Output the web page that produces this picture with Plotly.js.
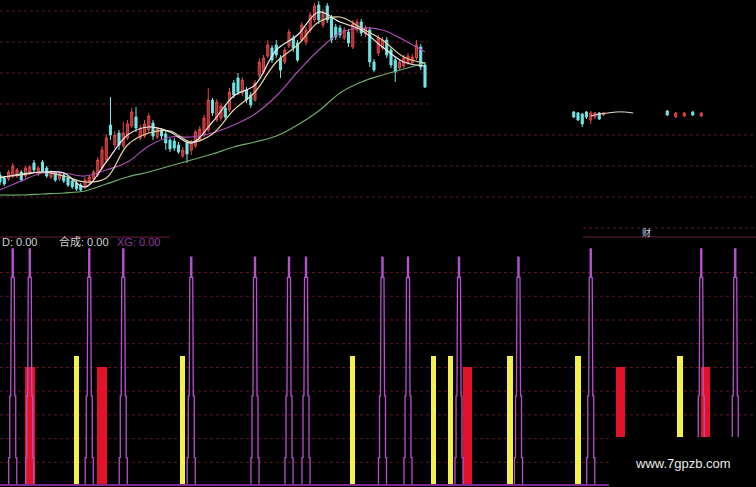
<!DOCTYPE html>
<html>
<head>
<meta charset="utf-8">
<script src="https://cdn.plot.ly/plotly-3.0.1.min.js"></script>
<style>
  html, body { margin: 0; padding: 0; background: #000; }
  #chart { width: 756px; height: 487px; }
</style>
</head>
<body>
<div id="chart"></div>
<script>
// ---- daily bars (price panel) ----
const barOpen = [
  5.5,5.2,5.1,5.4,5.4,5.8,5.4,5.7,6.7,5.6,
  6.8,6.2,5.3,5.7,5.1,5.5,5.2,4.9,4.7,4.5,
  4.3,4.8,5.1,5.5,6.2,7.0,10.5,8.5,9.7,8.4,
  9.2,10.4,11.3,9.2,9.4,10.0,10.7,9.3,10.0,9.6,
  9.0,8.9,8.5,7.4,8.7,8.0,8.4,9.0,9.5,10.0,
  13.0,11.0,11.2,12.2,12.0,14.7,15.2,13.7,14.0,13.5,
  13.0,15.5,15.8,17.4,18.2,18.5,17.2,16.8,18.4,19.2,
  18.7,19.0,18.8,20.0,21.0,22.5,20.5,22.4,21.2,20.3,
  20.2,19.2,19.8,18.3,20.0,20.8,19.6,20.0,16.8,17.7,
  18.2,19.0,18.0,17.0,16.2,16.4,16.7,16.7,17.2,18.3,
  16.5
];
const barHigh = [
  5.8,5.4,6.0,6.7,6.2,6.0,6.4,6.5,7.0,6.4,
  7.0,6.4,6.0,5.9,5.8,5.7,5.4,5.1,4.9,4.7,
  5.3,5.5,6.0,7.3,8.4,9.6,13.3,9.9,10.0,10.8,
  11.0,12.2,12.3,10.5,11.0,11.7,11.0,10.3,10.2,9.9,
  9.2,9.2,8.8,8.3,8.9,9.0,10.0,10.4,11.5,14.2,
  13.2,13.1,12.7,12.4,14.2,15.0,15.7,15.3,14.3,13.8,
  15.0,17.2,17.5,19.0,18.5,19.0,17.5,18.3,20.1,19.5,
  19.0,20.8,20.3,21.8,22.7,22.9,22.1,22.7,21.5,20.6,
  20.5,20.3,20.1,21.0,21.1,21.1,20.5,20.3,17.1,19.5,
  19.3,19.3,18.3,17.3,17.1,17.5,17.7,17.6,19.0,18.6,
  16.8
];
const barLow = [
  4.5,4.4,4.9,5.2,5.2,4.8,5.2,5.5,5.8,5.4,
  5.7,5.2,5.1,4.8,4.9,4.7,4.3,4.1,3.9,3.8,
  4.1,4.6,4.9,5.3,6.0,6.8,9.0,8.2,8.0,8.2,
  9.0,10.2,9.8,9.0,9.2,9.7,9.0,9.1,9.0,8.0,
  7.8,7.9,7.6,7.2,6.7,7.5,8.2,8.8,9.3,9.8,
  11.4,10.8,10.9,11.0,11.8,13.2,13.5,13.4,12.7,12.2,
  12.8,15.2,15.6,17.2,16.7,17.2,15.2,16.6,18.2,17.8,
  16.8,18.8,18.5,19.7,20.8,20.6,20.2,20.7,18.7,19.0,
  19.2,19.0,18.3,18.1,19.7,19.4,19.3,16.3,15.8,17.4,
  18.0,17.2,16.2,14.8,16.0,16.2,16.5,16.5,17.0,16.0,
  14.2
];
const barClose = [
  4.8,4.6,5.8,6.4,6.0,5.0,6.2,6.3,6.0,6.2,
  5.9,5.4,5.8,5.0,5.6,4.9,4.5,4.3,4.1,4.0,
  5.0,5.3,5.8,7.0,8.0,9.2,9.5,9.5,8.5,9.7,
  10.6,11.8,10.2,10.2,10.6,11.4,9.4,10.1,9.4,8.7,
  8.1,8.2,7.8,8.0,7.6,8.8,9.8,10.1,11.2,13.0,
  11.7,12.8,12.4,11.3,13.8,13.5,13.8,15.0,13.0,12.5,
  14.7,16.8,17.2,18.5,17.0,17.5,16.0,18.0,19.8,18.2,
  17.0,20.5,20.0,21.5,22.4,21.0,21.8,21.0,19.0,19.3,
  19.5,20.0,18.7,20.6,20.8,19.7,20.2,16.8,16.0,19.2,
  19.0,17.5,16.5,15.8,16.8,17.2,17.4,17.3,18.5,16.3,
  14.3
];
const barIdx = barOpen.map((_, i) => i);

// ---- moving averages, read every fifth bar ----
const maIdx = [0,5,10,15,20,25,30,35,40,45,50,55,60,65,70,75,80,85,90,95,100];
const ma5  = [5.2,5.6,5.8,5.7,4.3,6.8,9.5,10.3,9.8,8.7,10.8,13.4,14.5,18.0,19.5,21.8,20.8,20.0,18.3,16.8,16.4];
const ma10 = [5.3,5.5,5.8,5.4,4.8,5.2,8.5,9.7,9.9,8.8,9.6,12.0,13.8,16.8,18.5,20.8,21.3,20.2,19.0,17.3,16.7];
const ma20 = [4.0,4.9,5.7,5.7,5.4,6.0,6.8,8.4,9.3,9.3,9.7,10.5,11.6,13.4,15.8,18.0,19.7,20.2,20.0,19.0,17.8];
const ma60 = [3.5,3.5,3.6,3.7,3.9,4.6,5.3,5.8,6.4,7.0,7.6,8.3,8.8,9.4,10.5,11.9,13.7,14.8,15.5,16.1,16.7];

// ---- small inset bars ----
const miniIdx   = [135,136,137,138,139,140,141,142,157,159,161,163,165];
const miniOpen  = [21.8,21.7,21.6,21.8,21.0,21.3,21.7,21.5,21.9,21.3,21.4,21.8,21.4];
const miniHigh  = [21.9,21.8,21.7,21.9,21.9,21.8,21.8,21.8,22.0,21.8,21.8,21.9,21.8];
const miniLow   = [21.2,20.9,20.3,21.1,20.6,21.1,21.0,21.4,21.4,21.2,21.3,21.4,21.3];
const miniClose = [21.3,21.0,20.6,21.3,21.7,21.7,21.1,21.7,21.5,21.7,21.7,21.5,21.7];
const miniMaIdx = [139,141,143,145,147,149];
const miniMa    = [21.4,21.6,21.7,21.8,21.8,21.7];

// ---- signal panel ----
const spikeIdx   = [3,7,21,29,45,60,68,72,90,96,108,122,139,165,173];
const spikeTop   = [100,100,100,100,96.5,96.5,96.5,96.5,96.5,96.5,96.5,96.5,100,100,100];
const spikeSteps = [12,38,63,88];
const yellowIdx  = [18,43,83,102,106,120,136,160];
const yellowVal  = [55,55,55,55,55,55,55,55];
const redIdx     = [7,24,110,146,166];
const redVal     = [50,50,50,50,50];

const labelD  = 'D: 0.00';
const labelHC = '合成: 0.00';
const labelXG = 'XG: 0.00';
const labelCai = '财';
const siteText = 'www.7gpzb.com';

// ---- geometry helpers ----
const W = 756, H = 487, STEP = 4.25;
const px = v => v / W;
const py = v => 1 - v / H;

const traces = [];

// moving averages under the candles
const maDefs = [[ma60, '#6fae6a'], [ma20, '#a94db4'], [ma10, '#e6d6a2'], [ma5, '#ececec']];
maDefs.forEach(([vals, col]) => traces.push({
  type: 'scatter', mode: 'lines', x: maIdx, y: vals, xaxis: 'x', yaxis: 'y',
  line: { color: col, width: 1.2, shape: 'spline', smoothing: 1 }, hoverinfo: 'skip'
}));

const upStyle = { line: { color: '#e04848', width: 1 }, fillcolor: '#a42c2c' };
const downStyle = { line: { color: '#72e4e4', width: 1 }, fillcolor: '#72e4e4' };

traces.push({
  type: 'candlestick', x: barIdx, open: barOpen, high: barHigh, low: barLow, close: barClose,
  xaxis: 'x', yaxis: 'y', whiskerwidth: 0, increasing: upStyle, decreasing: downStyle,
  hoverinfo: 'skip'
});

// inset
traces.push({
  type: 'scatter', mode: 'lines', x: miniMaIdx, y: miniMa, xaxis: 'x', yaxis: 'y3',
  line: { color: '#e8e0d0', width: 1, shape: 'spline' }, hoverinfo: 'skip'
});
traces.push({
  type: 'candlestick', x: miniIdx, open: miniOpen, high: miniHigh, low: miniLow, close: miniClose,
  xaxis: 'x', yaxis: 'y3', whiskerwidth: 0, increasing: upStyle, decreasing: downStyle,
  hoverinfo: 'skip'
});

// yellow and red signal bars
traces.push({
  type: 'bar', x: yellowIdx, y: yellowVal, xaxis: 'x', yaxis: 'y2', width: 1.2,
  marker: { color: '#f4f04a', line: { width: 0 } }, hoverinfo: 'skip'
});
traces.push({
  type: 'bar', x: redIdx, y: redVal, xaxis: 'x', yaxis: 'y2', width: 2.35,
  marker: { color: '#e3122a', line: { width: 0 } }, hoverinfo: 'skip'
});

// stepped spires: hollow outline that narrows at every step
const halfW = [0.95, 0.7, 0.48, 0.35, 0.13];
const spX = [], spY = [];
spikeIdx.forEach((c, j) => {
  const lv = [0, ...spikeSteps, spikeTop[j]];
  const left = [], right = [];
  for (let k = 0; k < halfW.length; k++) {
    left.push([c - halfW[k], lv[k]], [c - halfW[k], lv[k + 1]]);
    right.push([c + halfW[k], lv[k]], [c + halfW[k], lv[k + 1]]);
  }
  const path = left.concat(right.reverse());
  path.forEach(([a, b]) => { spX.push(a); spY.push(b); });
  spX.push(null); spY.push(null);
});
traces.push({
  type: 'scatter', mode: 'lines', x: spX, y: spY, xaxis: 'x', yaxis: 'y2',
  line: { color: '#b652cc', width: 1.3 }, connectgaps: false, hoverinfo: 'skip'
});

// ---- grid and frame lines ----
const shapes = [];
const gridCol = '#5a1a1e';
for (let k = 0; k < 7; k++) {
  const lvl = 3.3 + 3.1 * k;
  shapes.push({ type: 'line', xref: 'paper', yref: 'y', x0: 0, x1: lvl > 11 ? px(428) : 1,
    y0: lvl, y1: lvl, line: { color: gridCol, width: 1, dash: 'dot' }, layer: 'below' });
}
for (let v = 10; v <= 90; v += 10) {
  shapes.push({ type: 'line', xref: 'paper', yref: 'y2', x0: 0, x1: 1, y0: v, y1: v,
    line: { color: gridCol, width: 1, dash: 'dot' }, layer: 'below' });
}
// panel header rules
shapes.push({ type: 'line', xref: 'paper', yref: 'paper', x0: 0, x1: px(170), y0: py(237), y1: py(237),
  line: { color: '#64203e', width: 1.2 } });
shapes.push({ type: 'line', xref: 'paper', yref: 'paper', x0: px(583), x1: 1, y0: py(237), y1: py(237),
  line: { color: '#64203e', width: 1.2 } });
shapes.push({ type: 'line', xref: 'paper', yref: 'paper', x0: px(583), x1: 1, y0: py(228), y1: py(228),
  line: { color: gridCol, width: 1, dash: 'dot' } });
// baseline of the signal panel
shapes.push({ type: 'line', xref: 'paper', yref: 'y2', x0: 0, x1: 1, y0: 0.4, y1: 0.4,
  line: { color: '#7e2c92', width: 2 }, layer: 'above' });
// footer plate
shapes.push({ type: 'rect', xref: 'paper', yref: 'paper', x0: px(609), x1: 1, y0: 0, y1: py(437),
  fillcolor: '#000', line: { width: 0 }, layer: 'above' });

const annotations = [
  { text: labelD, x: 0, y: py(241.5), xanchor: 'left', font: { color: '#d4d4d4', size: 11, family: 'Liberation Sans, Noto Sans CJK SC' } },
  { text: labelHC, x: px(57), y: py(241.5), xanchor: 'left', font: { color: '#d4d4d4', size: 11, family: 'Liberation Sans, Noto Sans CJK SC' } },
  { text: labelXG, x: px(115), y: py(241.5), xanchor: 'left', font: { color: '#8e3a9e', size: 11, family: 'Liberation Sans, Noto Sans CJK SC' } },
  { text: labelCai, x: px(646), y: py(232.5), xanchor: 'center', font: { color: '#c4d4f2', size: 9, family: 'Noto Sans CJK SC' } },
  { text: siteText, x: px(683), y: py(463), xanchor: 'center', font: { color: '#ececec', size: 13, family: 'Liberation Sans' } }
].map(a => Object.assign({ xref: 'paper', yref: 'paper', yanchor: 'middle', showarrow: false }, a));

const axisOff = { visible: false, showgrid: false, zeroline: false, fixedrange: true };
const layout = {
  width: W, height: H,
  margin: { l: 0, r: 0, t: 0, b: 0, pad: 0 },
  paper_bgcolor: '#000', plot_bgcolor: 'rgba(0,0,0,0)',
  showlegend: false, hovermode: false, barmode: 'overlay', bargap: 0,
  xaxis: Object.assign({}, axisOff, { range: [0, W / STEP], rangeslider: { visible: false } }),
  yaxis: Object.assign({}, axisOff, { domain: [py(220), 1], range: [1, 23] }),
  yaxis2: Object.assign({}, axisOff, { domain: [py(486), py(237)], range: [0, 105] }),
  yaxis3: Object.assign({}, axisOff, { domain: [py(135), py(100)], range: [19.5, 23] }),
  shapes, annotations
};

Plotly.newPlot('chart', traces, layout, { staticPlot: true, displayModeBar: false });
</script>
</body>
</html>
